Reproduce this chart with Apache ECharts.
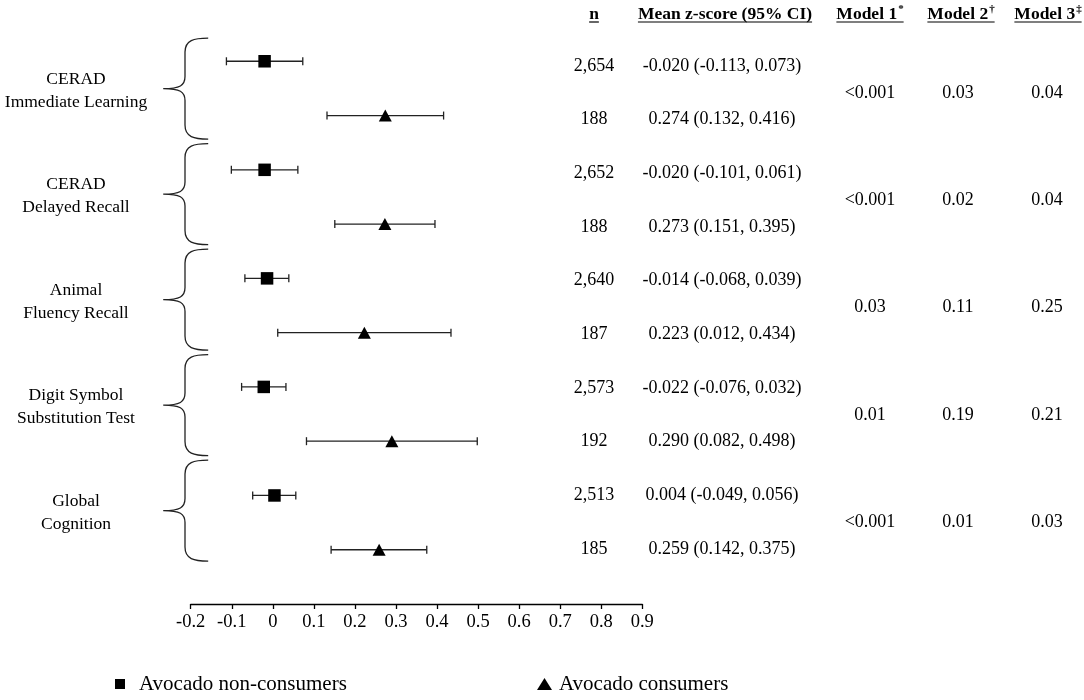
<!DOCTYPE html>
<html><head><meta charset="utf-8">
<script src="https://cdn.jsdelivr.net/npm/echarts@6/dist/echarts.min.js"></script>
<style>html,body{margin:0;padding:0;background:#fff}#c{width:1084px;height:700px}</style>
</head><body><div id="c"></div>
<script>
// ---------- data ----------
const groupLabels = [['CERAD','Immediate Learning'],['CERAD','Delayed Recall'],['Animal','Fluency Recall'],['Digit Symbol','Substitution Test'],['Global','Cognition']];
const nonMean = [-0.020, -0.020, -0.014, -0.022, 0.004];
const nonLow  = [-0.113, -0.101, -0.068, -0.076, -0.049];
const nonHigh = [0.073, 0.061, 0.039, 0.032, 0.056];
const conMean = [0.274, 0.273, 0.223, 0.290, 0.259];
const conLow  = [0.132, 0.151, 0.012, 0.082, 0.142];
const conHigh = [0.416, 0.395, 0.434, 0.498, 0.375];
const nonN = ['2,654','2,652','2,640','2,573','2,513'];
const conN = ['188','188','187','192','185'];
const model1P = ['<0.001','<0.001','0.03','0.01','<0.001'];
const model2P = ['0.03','0.02','0.11','0.19','0.01'];
const model3P = ['0.04','0.04','0.25','0.21','0.03'];
const headerTexts = ['n','Mean z-score (95% CI)','Model 1','Model 2','Model 3'];
const headerSups  = ['','','*','\u2020','\u2021'];
const seriesNames = ['Avocado non-consumers','Avocado consumers'];
const xMin = -0.2, xMax = 0.9, xStep = 0.1;

// ---------- layout ----------
const FONT = '"Liberation Serif","Times New Roman",serif';
const colX = [594, 722, 870, 958, 1047];
const headerX = [594, 725, 870, 961, 1048];
const fmt = v => v.toFixed(3);

const nonPts = nonMean.map((m, g) => [m, 2 * g]);
const conPts = conMean.map((m, g) => [m, 2 * g + 1]);
const errData = [];
nonLow.forEach((l, g) => errData.push([l, nonHigh[g], 2 * g]));
conLow.forEach((l, g) => errData.push([l, conHigh[g], 2 * g + 1]));

const rowN = [], rowCI = [], rowData = [];
nonMean.forEach((m, g) => {
  rowN.push(nonN[g]); rowCI.push(`${fmt(m)} (${fmt(nonLow[g])}, ${fmt(nonHigh[g])})`); rowData.push([xMin, 2 * g]);
  rowN.push(conN[g]); rowCI.push(`${fmt(conMean[g])} (${fmt(conLow[g])}, ${fmt(conHigh[g])})`); rowData.push([xMin, 2 * g + 1]);
});
const groupData = groupLabels.map((_, g) => [xMin, 2 * g + 0.5]);

const mctx = document.createElement('canvas').getContext('2d');
function tw(t, font) { mctx.font = font; return mctx.measureText(t).width; }

function txt(x, y, text, size, align, weight) {
  return { type: 'text', x: x, y: y, style: { text: text, fontSize: size, fontFamily: FONT, fontWeight: weight || 'normal', fill: '#000', align: align || 'center', verticalAlign: 'middle', textAlign: align || 'center', textVerticalAlign: 'middle' } };
}

// headers
const graphics = [];
headerTexts.forEach((h, i) => {
  const mainFont = 'bold 17.5px "Liberation Serif"';
  const supFont = 'bold 11px "Liberation Serif"';
  const wm = tw(h, mainFont);
  const ws = headerSups[i] ? tw(headerSups[i], supFont) + 1 : 0;
  const W = wm + ws;
  const x0 = headerX[i] - W / 2;
  graphics.push(txt(x0, 14, h, 17.5, 'left', 'bold'));
  if (headerSups[i]) graphics.push(txt(x0 + wm + 1, 9, headerSups[i], 11, 'left', 'bold'));
  graphics.push({ type: 'line', shape: { x1: x0, y1: 22, x2: x0 + W, y2: 22 }, style: { stroke: '#000', lineWidth: 1.2 } });
});

const chart = echarts.init(document.getElementById('c'), null, { renderer: 'canvas' });
chart.setOption({
  animation: false,
  backgroundColor: '#fff',
  grid: { left: 190.7, right: 441.7, top: 7, bottom: 96, containLabel: false },
  xAxis: {
    type: 'value', min: xMin, max: xMax, interval: xStep,
    axisLine: { show: true, onZero: false, lineStyle: { color: '#000', width: 1.3 } },
    axisTick: { show: true, length: 5, lineStyle: { color: '#000', width: 1.3 } },
    axisLabel: { color: '#000', fontSize: 18.5, fontFamily: FONT, margin: 9 },
    splitLine: { show: false }
  },
  yAxis: [
    { type: 'value', inverse: true, min: -1, max: 10, show: false },
    { type: 'value', inverse: true, min: -1.0993, max: 10.0242, show: false },
    { type: 'value', inverse: true, min: -1.0464, max: 10.2711, show: false }
  ],
  legend: [
    { data: [{ name: seriesNames[0], icon: 'rect' }], left: 115, top: 672, padding: 0, itemWidth: 10, itemHeight: 10,
      textStyle: { fontSize: 21, fontFamily: FONT, color: '#000', lineHeight: 24, padding: [0, 0, 0, 9] } },
    { data: [{ name: seriesNames[1], icon: 'triangle' }], left: 537, top: 672, padding: 0, itemWidth: 15, itemHeight: 12,
      textStyle: { fontSize: 21, fontFamily: FONT, color: '#000', lineHeight: 24, padding: [0, 0, 0, 2] } }
  ],
  graphic: { elements: graphics },
  series: [
    {
      type: 'custom', name: 'ci', xAxisIndex: 0, yAxisIndex: 0, data: errData, z: 1,
      encode: { x: [0, 1], y: 2 },
      renderItem: function (params, api) {
        const y = api.value(2);
        const a = api.coord([api.value(0), y]);
        const b = api.coord([api.value(1), y]);
        const st = { stroke: '#222', lineWidth: 1.3 };
        return { type: 'group', children: [
          { type: 'line', shape: { x1: a[0], y1: a[1], x2: b[0], y2: b[1] }, style: st },
          { type: 'line', shape: { x1: a[0], y1: a[1] - 4, x2: a[0], y2: a[1] + 4 }, style: st },
          { type: 'line', shape: { x1: b[0], y1: b[1] - 4, x2: b[0], y2: b[1] + 4 }, style: st }
        ] };
      }
    },
    { type: 'scatter', name: seriesNames[0], data: nonPts, symbol: 'rect', symbolSize: 12.5, itemStyle: { color: '#000', opacity: 1 }, z: 3 },
    { type: 'scatter', name: seriesNames[1], data: conPts, symbol: 'triangle', symbolSize: [13, 12], itemStyle: { color: '#000', opacity: 1 }, z: 3 },
    {
      type: 'custom', name: 'rows', xAxisIndex: 0, yAxisIndex: 1, data: rowData, encode: { x: 0, y: 1 },
      renderItem: function (params, api) {
        const i = params.dataIndex;
        const y = api.coord([xMin, api.value(1)])[1];
        return { type: 'group', children: [ txt(colX[0], y, rowN[i], 18), txt(colX[1], y, rowCI[i], 18) ] };
      }
    },
    {
      type: 'custom', name: 'pvals', xAxisIndex: 0, yAxisIndex: 1, data: groupData, encode: { x: 0, y: 1 },
      renderItem: function (params, api) {
        const g = params.dataIndex;
        const y = api.coord([xMin, api.value(1)])[1];
        return { type: 'group', children: [ txt(colX[2], y, model1P[g], 18), txt(colX[3], y, model2P[g], 18), txt(colX[4], y, model3P[g], 18) ] };
      }
    },
    {
      type: 'custom', name: 'braces', xAxisIndex: 0, yAxisIndex: 2, data: groupData, encode: { x: 0, y: 1 },
      renderItem: function (params, api) {
        const g = params.dataIndex;
        const p = api.coord([xMin, api.value(1)]);
        const c = p[1];
        const half = 0.957 * api.size([0, 1])[1];
        const T = c - half, B = c + half;
        const sp = p[0] - 5.7, tip = p[0] - 27.5, en = p[0] + 17.5;
        const d = `M${en},${T} C${sp + 9},${T} ${sp},${T + 2} ${sp},${T + 14} L${sp},${c - 12} C${sp},${c - 3} ${sp - 5},${c} ${tip},${c} ` +
                  `M${tip},${c} C${sp - 5},${c} ${sp},${c + 3} ${sp},${c + 12} L${sp},${B - 14} C${sp},${B - 2} ${sp + 9},${B} ${en},${B}`;
        return { type: 'group', children: [
          { type: 'path', shape: { pathData: d }, style: { stroke: '#222', lineWidth: 1.3, fill: null } },
          txt(76, c + 2 - 11.5, groupLabels[g][0], 17.5),
          txt(76, c + 2 + 11.5, groupLabels[g][1], 17.5)
        ] };
      }
    }
  ]
});
</script></body></html>
